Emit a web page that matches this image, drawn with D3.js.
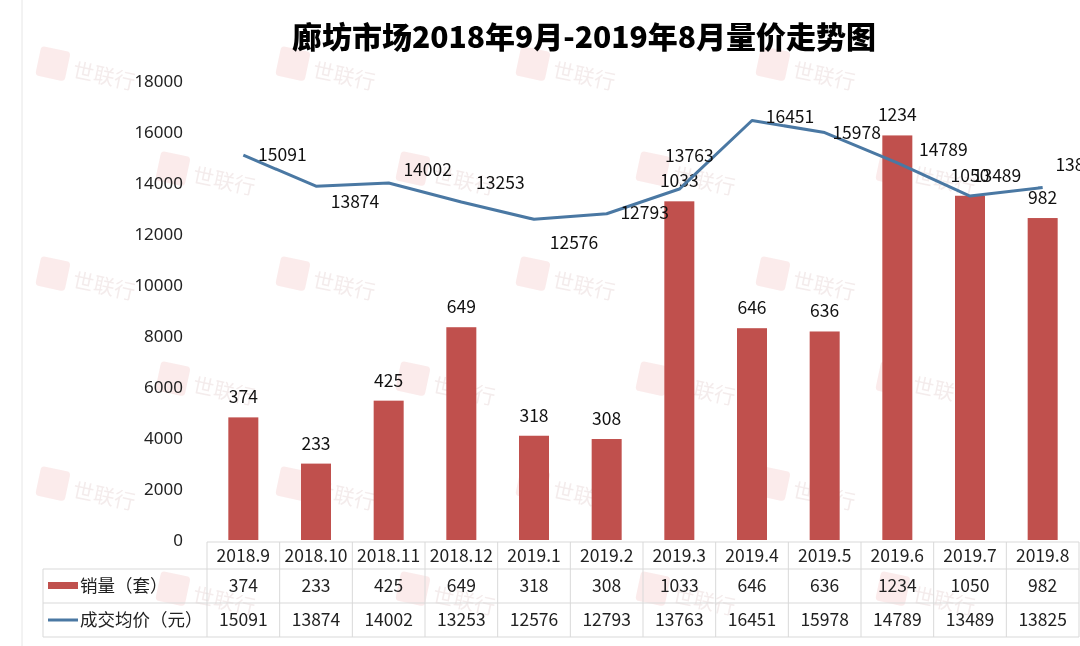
<!DOCTYPE html>
<html><head><meta charset="utf-8">
<script src="https://cdn.jsdelivr.net/npm/d3@7"></script>
<style>
html,body{margin:0;padding:0;background:#fff;}
svg{display:block;font-family:"Noto Sans CJK SC","Noto Sans",sans-serif;}
</style></head>
<body><svg id="c" width="1080" height="646"></svg>
<script>
const titleText = "廊坊市场2018年9月-2019年8月量价走势图";
const categories = ["2018.9","2018.10","2018.11","2018.12","2019.1","2019.2","2019.3","2019.4","2019.5","2019.6","2019.7","2019.8"];
const sales = [374,233,425,649,318,308,1033,646,636,1234,1050,982];
const prices = [15091,13874,14002,13253,12576,12793,13763,16451,15978,14789,13489,13825];
const priceTicks = [0,2000,4000,6000,8000,10000,12000,14000,16000,18000];
const seriesNames = ["销量（套）","成交均价（元）"];
// label nudges (layout only)
const priceLabelNudge = [[39,0],[39,16],[39,-13],[39,-19],[40,24],[38,-1],[10,-33],[38,-3],[32,0],[46,-13],[27,-20],[37,-22]];

const svg = d3.select("#c");
const barColor = "#C0504D", lineColor = "#4A78A3", gridCol = "#D9D9D9";

// watermarks
const wm = svg.append("g").attr("opacity",0.1);
for (let r=0;r<6;r++){
  const y = 62 + r*105;
  const x0 = r%2===0 ? 40 : 160;
  for (let x=x0; x+100<1080; x+=240){
    const g = wm.append("g").attr("transform",`translate(${x},${y}) rotate(12)`);
    g.append("rect").attr("x",-2).attr("y",-16).attr("width",30).attr("height",30).attr("rx",4).attr("fill","#D23A3A");
    g.append("text").attr("x",34).attr("y",8).attr("font-size",21).attr("fill","#904040").text("世联行");
  }
}

// left frame line
svg.append("line").attr("x1",22).attr("x2",22).attr("y1",0).attr("y2",646).attr("stroke","#e6e6e6");

// title
svg.append("text").attr("x",584).attr("y",48).attr("text-anchor","middle")
  .attr("font-size",30).attr("font-weight",900).attr("fill","#000").text(titleText);

const x = d3.scaleBand().domain(categories).range([207,1079]).padding(0);
const y = d3.scaleLinear().domain([0,18000]).range([540,81]);
const y2 = d3.scaleLinear().domain([0,1400]).range([540,81]);

// y axis labels
const ax = svg.append("g").attr("transform","translate(183,0)")
  .call(d3.axisLeft(y).tickValues(priceTicks).tickSize(0).tickPadding(0).tickFormat(d3.format("d")));
ax.select(".domain").remove();
ax.selectAll("text").attr("font-size",17).attr("fill","#222").attr("font-family","'Noto Sans','Noto Sans CJK SC',sans-serif");

// bars
const bw = 30;
svg.append("g").selectAll("rect").data(sales).join("rect")
  .attr("x",(d,i)=>x(categories[i])+x.bandwidth()/2-bw/2)
  .attr("y",d=>y2(d)).attr("width",bw).attr("height",d=>540-y2(d)).attr("fill",barColor);
svg.append("g").selectAll("text").data(sales).join("text")
  .attr("x",(d,i)=>x(categories[i])+x.bandwidth()/2).attr("y",d=>y2(d)-14)
  .attr("text-anchor","middle").attr("font-size",17.5).attr("fill","#111").text(d=>d);

// line
const line = d3.line().x((d,i)=>x(categories[i])+x.bandwidth()/2).y(d=>y(d));
svg.append("path").datum(prices).attr("d",line).attr("fill","none")
  .attr("stroke",lineColor).attr("stroke-width",3).attr("stroke-linejoin","round");
svg.append("g").selectAll("text").data(prices).join("text")
  .attr("x",(d,i)=>x(categories[i])+x.bandwidth()/2+priceLabelNudge[i][0])
  .attr("y",(d,i)=>y(d)+priceLabelNudge[i][1]+6)
  .attr("text-anchor","middle").attr("font-size",17.5).attr("fill","#111").text(d=>d);

// data table
const tb = svg.append("g");
const rowY = [542,569,603,637];
const left = 43, right = 1079, colStart = 207;
tb.append("line").attr("x1",colStart).attr("x2",right).attr("y1",rowY[0]).attr("y2",rowY[0]).attr("stroke",gridCol);
[1,2,3].forEach(k=>tb.append("line").attr("x1",left).attr("x2",right).attr("y1",rowY[k]).attr("y2",rowY[k]).attr("stroke",gridCol));
tb.append("line").attr("x1",left).attr("x2",left).attr("y1",rowY[1]).attr("y2",rowY[3]).attr("stroke",gridCol);
categories.forEach((c,i)=>{
  const xx = x(c);
  tb.append("line").attr("x1",xx).attr("x2",xx).attr("y1",rowY[0]).attr("y2",rowY[3]).attr("stroke",gridCol);
});
tb.append("line").attr("x1",right).attr("x2",right).attr("y1",rowY[0]).attr("y2",rowY[3]).attr("stroke",gridCol);
const rowMid = [(rowY[0]+rowY[1])/2,(rowY[1]+rowY[2])/2,(rowY[2]+rowY[3])/2];
[categories, sales, prices].forEach((arr,r)=>{
  tb.append("g").selectAll("text").data(arr).join("text")
    .attr("x",(d,i)=>x(categories[i])+x.bandwidth()/2).attr("y",rowMid[r]+6)
    .attr("text-anchor","middle").attr("font-size",17.5).attr("fill","#222").text(d=>d);
});
// legend entries
tb.append("rect").attr("x",48).attr("y",rowMid[1]-4).attr("width",30).attr("height",7).attr("fill",barColor);
tb.append("line").attr("x1",48).attr("x2",78).attr("y1",rowMid[2]).attr("y2",rowMid[2]).attr("stroke",lineColor).attr("stroke-width",3);
tb.append("text").attr("x",80).attr("y",rowMid[1]+6).attr("font-size",17.5).attr("fill","#222").text(seriesNames[0]);
tb.append("text").attr("x",80).attr("y",rowMid[2]+6).attr("font-size",17.5).attr("fill","#222").text(seriesNames[1]);
</script></body></html>
